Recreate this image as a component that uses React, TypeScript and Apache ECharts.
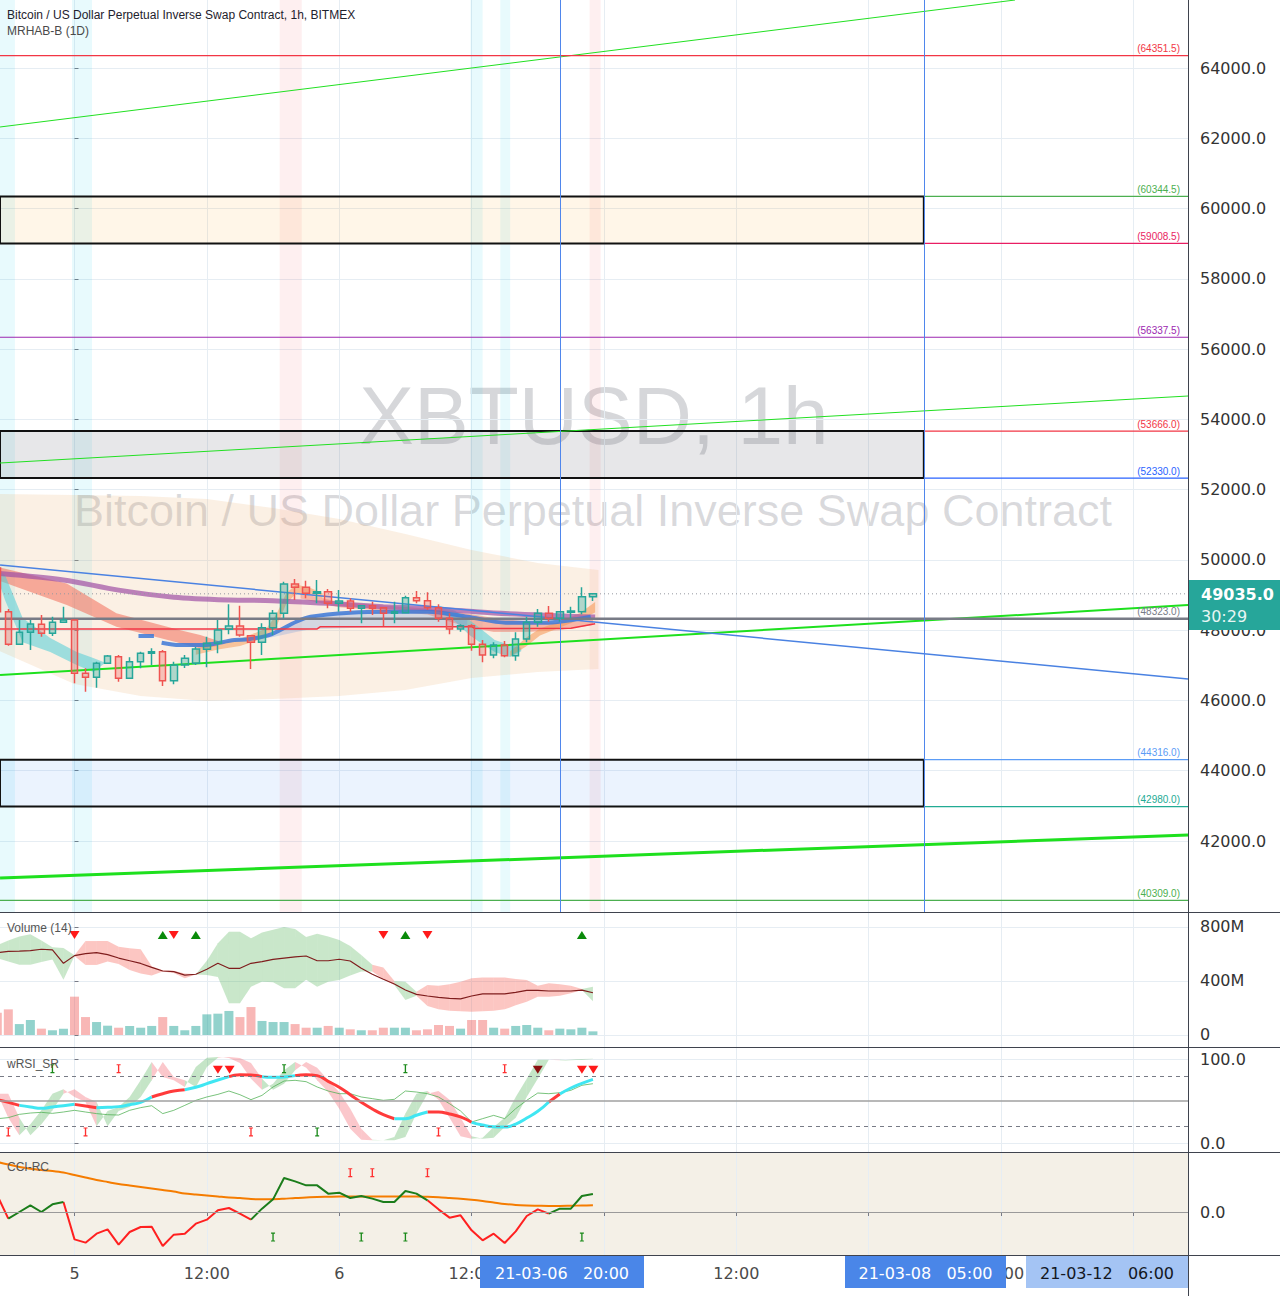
import React, { useEffect, useRef } from "react";
import * as echarts from "echarts";

// ---------------- axes ----------------
const X_MIN = -6.754;
const X_MAX = 100.95;
const PRICE_MIN = 39979.5;
const PRICE_MAX = 65935.3;
const VOL_MIN = -88.9;
const VOL_MAX = 911.1;
const RSI_MIN = -10.71;
const RSI_MAX = 114.29;
const CCI_MIN = -86;
const CCI_MAX = 120;

const timeTicks = [0, 12, 24, 36, 48, 60, 72, 84, 96];
const timeLabels = ["5", "12:00", "6", "12:00", "7", "12:00", "8", "12:00", "9"];
// ticks whose labels are hidden behind the highlighted date boxes
const coveredTimeTicks = [48, 72, 96];
const priceTicks = [42000, 44000, 46000, 48000, 50000, 52000, 54000, 56000, 58000, 60000, 62000, 64000];
const volumeTicks = [0, 400, 800];
const rsiTicks = [0, 100];
const cciTicks = [0];

// ---------------- candles (hours from 2021-03-05 00:00) ----------------
const firstCandleHour = -7;
const opens = [49770, 48526, 47598, 47939, 48167, 47911, 48224, 48289, 46772, 46659, 47057, 47245, 46630, 47103, 47342, 47387, 46562, 47009, 47057, 47455, 47626, 48025, 48119, 47843, 47655, 48070, 48480, 49314, 49220, 49049, 49095, 48765, 48830, 48622, 48696, 48640, 48480, 48497, 48924, 48839, 48640, 48338, 48033, 48127, 47598, 47293, 47578, 47273, 47749, 48224, 48480, 48338, 48509, 48526, 48953];
const closes = [48526, 47598, 47939, 48176, 47911, 48224, 48289, 46772, 46659, 47057, 47265, 46630, 47103, 47342, 47387, 46562, 47009, 47199, 47464, 47626, 48005, 48119, 47863, 47655, 48070, 48480, 49314, 49220, 49049, 49095, 48765, 48830, 48622, 48696, 48622, 48480, 48526, 48924, 48839, 48640, 48338, 48033, 48127, 47598, 47293, 47578, 47273, 47749, 48224, 48480, 48338, 48526, 48546, 48953, 49035];
const highs = [49850, 48603, 48289, 48289, 48432, 48383, 48668, 48289, 46915, 47103, 47294, 47294, 47228, 47387, 47484, 47436, 47103, 47294, 47521, 47814, 48289, 48736, 48696, 47843, 48196, 48574, 49380, 49456, 49408, 49428, 49172, 49143, 48907, 48696, 48810, 48640, 48810, 48981, 49115, 49078, 48736, 48480, 48167, 48167, 47720, 47655, 47692, 47939, 48383, 48603, 48688, 48526, 48668, 49220, 49050];
const lows = [48500, 47560, 47579, 47436, 47814, 47834, 48224, 46488, 46249, 46363, 47057, 46533, 46630, 46915, 47009, 46411, 46459, 46923, 47009, 46943, 47342, 47882, 47814, 46895, 47293, 47863, 48338, 48859, 48907, 48765, 48622, 48526, 48526, 48196, 48432, 48119, 48196, 48480, 48765, 48574, 48241, 47882, 47957, 47416, 47086, 47199, 47228, 47131, 47655, 48099, 48241, 48241, 48338, 48452, 48830];
const candleHours = opens.map((_, i) => firstCandleHour + i);
const lastPrice = 49035;

// ---------------- volume pane (millions) ----------------
const volumes = [165, 190, 81, 111, 47, 35, 47, 284, 133, 96, 69, 54, 67, 54, 67, 133, 67, 35, 67, 153, 158, 178, 133, 207, 104, 96, 96, 81, 54, 54, 67, 54, 42, 35, 35, 54, 54, 54, 35, 42, 74, 67, 47, 111, 111, 54, 47, 67, 74, 54, 35, 47, 42, 54, 27];
const volumeMA = [610, 620, 622, 625, 635, 630, 531, 588, 603, 610, 595, 570, 550, 530, 501, 474, 469, 444, 450, 487, 531, 494, 494, 531, 543, 560, 570, 578, 585, 550, 550, 561, 548, 494, 450, 413, 378, 333, 301, 289, 279, 272, 267, 289, 304, 304, 304, 316, 331, 331, 326, 326, 326, 333, 313];
const volCloudUpper = [665, 700, 730, 746, 700, 650, 645, 590, 696, 696, 696, 654, 642, 635, 510, 480, 475, 455, 450, 550, 680, 765, 765, 716, 760, 780, 800, 785, 725, 750, 730, 704, 660, 593, 520, 500, 400, 395, 320, 370, 365, 375, 395, 420, 425, 425, 425, 415, 407, 365, 383, 375, 365, 340, 358];
const volCloudLower = [570, 545, 520, 520, 540, 560, 410, 586, 519, 519, 545, 525, 481, 455, 440, 470, 460, 420, 448, 444, 430, 235, 235, 358, 395, 390, 346, 346, 410, 358, 395, 407, 440, 470, 470, 413, 370, 259, 290, 215, 190, 180, 175, 173, 175, 180, 190, 220, 247, 284, 284, 290, 310, 333, 250];
const volCloudColor = ["ggggggg", "rrrrrrrrrrr", "gggggggggggggggg", "rr", "gg", "rrrrrrrrrrrrrrr", "g"].join("");
const volDownHours = [0, 9, 28, 32];
const volUpHours = [8, 11, 30, 46];
const volSignalLevel = 741;

// ---------------- wRSI pane ----------------
const rsiMain = [51.6, 48.4, 44.8, 42.9, 41.3, 42.9, 44.4, 46, 44, 42, 42.5, 43.3, 45.6, 48.4, 54.8, 58.7, 61.9, 63.5, 66.3, 70.6, 75, 79, 81.4, 81, 79, 78.2, 78.6, 80.2, 81.4, 80.2, 73.4, 66.3, 57.5, 48.4, 40.5, 33.7, 28.9, 28.9, 33, 36.9, 36.9, 34.5, 31, 24.6, 21.4, 19.4, 19, 22.6, 29.8, 37.7, 48.8, 58.3, 65.5, 71.1, 75.8];
const rsiSegColor = ["rr", "ccccc", "rr", "ccccc", "rrr", "cccc", "rrr", "ccc", "rrrrrrrrr", "ccc", "rrrr", "ccccccc", "r", "ccc"].join("");
const rsiFast = [58.7, 30.2, 9.1, 22.2, 38.9, 58.7, 63.9, 54.8, 48.8, 19.8, 38.1, 42.9, 54.8, 74.6, 96.4, 78.6, 74.6, 66.7, 90.5, 101.6, 102.4, 101.2, 95.2, 76.6, 63.5, 70.6, 86.5, 96.4, 89.7, 74.6, 60.7, 40.9, 17.1, 4, 3.2, 3.2, 7.1, 35, 58.7, 61.9, 51.6, 30.2, 7.9, 5.2, 6.3, 19, 30.2, 54.8, 76.6, 99.2, 99.2, 98.4, 99.2, 100, 100.4];
const rsiThin = [28.9, 30.2, 34.1, 35.7, 36.5, 35.3, 36.9, 38.9, 36.9, 35, 33.7, 33.3, 38.9, 42.1, 44.4, 35, 38.9, 44.8, 50.8, 54.8, 57.9, 61.9, 57.5, 51.6, 56.7, 66.7, 73.8, 74.6, 73, 66.7, 61.9, 58.7, 58.7, 54.8, 52.8, 50.8, 52, 61.9, 60.7, 58.7, 54.8, 46.8, 38.1, 25, 29, 32.9, 29, 40.9, 50.8, 59.5, 58.7, 59.9, 62.7, 68.7, 70.6];
const rsiLevels = [80, 50, 20];
const rsiSellHours = [13, 14.06, 46, 47.04];
const rsiStrongSellHours = [42];
const rsiTriangleLevel = 87.3;
const rsiRedTopHours = [4, 39];
const rsiRedBottomHours = [-6, 1, 16, 33];
const rsiGreenTopHours = [-2, 19, 30];
const rsiGreenBottomHours = [22];
const rsiTopMark = 88.5;
const rsiBottomMark = 13.1;

// ---------------- CCI pane ----------------
const cci = [33.3, -13.3, 0, 13.3, 0, 15.3, 20, -54.7, -61.3, -43.3, -34.7, -65.3, -40, -30, -29.3, -68, -45.3, -43.3, -23.3, -15.3, 3.3, 8, -3.3, -15.3, 6.7, 25.3, 68, 61.3, 53.3, 53.3, 36.7, 38.7, 28, 32, 26.7, 20, 20, 42, 36.7, 23.3, 5.3, -11.3, -6.7, -36.7, -56.7, -43.3, -62, -38.7, -8, 5.3, -3.3, 6.7, 6.7, 32, 36];
const cciSegColor = ["r", "ggggg", "rrrrrrrrrrrrrrrrr", "gggggggggggggggg", "rrrrrrrrrrr", "gggg"].join("");
const cciMA = [100, 95, 90, 86.5, 84, 82, 79, 74, 69, 64, 60, 56, 53, 50, 47, 44, 41, 37, 35, 33, 31, 29, 28, 26, 25.5, 25.5, 26.5, 28, 29, 30, 30.5, 31, 31, 31, 31, 31, 31, 31, 31, 30.5, 29.5, 28, 26.5, 24.5, 22, 19, 16, 14, 13, 12.5, 12, 12, 12.5, 13, 13.5];
const cciRedHours = [25, 27, 32];
const cciGreenHours = [18, 26, 30, 46];
const cciTopMark = 78.7;
const cciBottomMark = -50;

// ---------------- main pane overlays ----------------
const envHours = [-7, 0, 6, 12, 18, 24, 30, 36, 42, 47.5];
const envUpper = [51876, 51847, 51819, 51733, 51477, 51164, 50737, 50282, 49912, 49713];
const envLower = [47436, 46468, 46127, 45984, 46041, 46127, 46297, 46639, 46810, 46895];

const purpleHours = [-7, -1, 4, 9, 14, 18, 23, 28, 32, 38, 47.2];
const purpleVals = [49620, 49430, 49140, 48940, 48860, 48840, 48765, 48670, 48620, 48490, 48375];

const blueMAHours = [5.8, 7.2, 7.5, 7.9, 9.5, 11.6, 14.5, 15.8, 17.9, 20.1, 21.4, 25, 28.5, 32, 35.6, 39.1, 42.6, 46.8];
const blueMAVals = [47834, 47834, null, 47644, 47578, 47578, 47720, 47741, 47891, 48241, 48383, 48497, 48526, 48526, 48383, 48213, 48213, 48383];

const blueFillHours = [14.5, 17.9, 20.1, 21.4, 25, 28.5, 32, 35.6];
const blueFillUpper = [47720, 47891, 48241, 48383, 48497, 48526, 48526, 48383];
const blueFillLower = [47700, 47800, 47950, 48030, 48060, 48100, 48100, 48100];

const redLineHours = [-7, 22, 22.3, 36, 36.3, 45, 47.2];
const redLineVals = [48035, 48035, 48100, 48100, 48045, 48055, 48180];

const cyanRibbon1Hours = [-7, -6.3, -4.7, -2.2, 0.2, 1.7, 2.8];
const cyanRibbon1Upper = [49700, 49570, 48350, 47780, 47380, 47210, 47070];
const cyanRibbon1Lower = [49500, 48860, 47660, 47380, 47010, 46810, 47070];

const salmonRibbonHours = [-7, -0.7, 3.8, 9.6, 11.4, 13];
const salmonRibbonUpper = [49800, 49330, 48480, 48000, 47860, 47700];
const salmonRibbonLower = [49430, 48720, 48100, 47630, 47480, 47550];

const orangeRibbonHours = [11, 13, 15, 17.4, 18.3, 19.2, 20.1, 21.4, 22.5];
const orangeRibbonUpper = [47450, 47650, 47750, 48050, 48450, 49050, 49300, 49200, 49050];
const orangeRibbonLower = [47300, 47450, 47550, 47800, 48100, 48750, 49050, 49000, 48900];

const salmonRibbon2Hours = [20.5, 24, 28, 32, 35, 38, 41, 44, 47];
const salmonRibbon2Upper = [49050, 48800, 48700, 48620, 48500, 48350, 48250, 48200, 48300];
const salmonRibbon2Lower = [48900, 48650, 48550, 48450, 48150, 47950, 47950, 48000, 48150];

const cyanRibbon2Hours = [33, 34.5, 35.8, 37, 38.1, 39.5, 40.5];
const cyanRibbon2Upper = [48700, 48550, 48290, 48000, 47720, 47578, 47500];
const cyanRibbon2Lower = [48550, 48250, 47863, 47600, 47379, 47237, 47400];

const orangeRibbon2Hours = [39.5, 41, 42.2, 44, 45.8, 47.2];
const orangeRibbon2Upper = [47400, 47800, 48050, 48250, 48480, 48800];
const orangeRibbon2Lower = [47250, 47550, 47850, 48080, 48300, 48500];

const trendTop = [[-6.75, 62321], [85.27, 65935]];
const trendMid = [[-6.75, 52758], [100.95, 54665]];
const trendLow = [[-6.75, 46724], [100.95, 48717]];
const trendBottom = [[-6.75, 40947], [100.95, 42170]];
const trendBlue = [[-6.75, 49855], [100.95, 46610]];

const levelPrices = [64351.5, 60344.5, 59008.5, 56337.5, 53666.0, 52330.0, 48323.0, 44316.0, 42980.0, 40309.0];
const levelStartHours = [null, 77, 77, null, 77, 77, null, 77, 77, null];
const zoneTops = [60344.5, 53666.0, 44316.0];
const zoneBottoms = [59008.5, 52330.0, 42980.0];
const zoneEndHour = 77;
const cursorHours = [44, 77];
const cyanStripes = [[-7.5, -5.4], [-0.23, 1.59], [35.9, 37.0], [38.6, 39.5]];
const pinkStripes = [[18.6, 20.6], [46.7, 47.7]];

// ---------------- styles ----------------
const levelColors = ["#f23645", "#4caf50", "#e91e63", "#9c27b0", "#f23645", "#2962ff", "#787b86", "#5b9cf6", "#22ab94", "#4caf50"];
const levelWidths = [1.2, 1.2, 1.2, 1.2, 1.2, 1.2, 2.5, 1.2, 1.2, 1.2];
const zoneFills = ["rgba(255,152,0,0.09)", "rgba(120,123,134,0.18)", "rgba(33,120,243,0.09)"];
const TEAL = "#26a69a";
const RED = "#ef5350";
const AXIS_FONT = "DejaVu Sans";
const UI_FONT = "Liberation Sans";

function polygonSeries(xIdx: number, hours: number[], upper: number[], lower: number[], fill: string, z: number) {
  return {
    type: "custom",
    xAxisIndex: xIdx,
    yAxisIndex: xIdx,
    z,
    silent: true,
    clip: true,
    data: [[hours[hours.length - 1], upper[upper.length - 1]]],
    renderItem: (_params: any, api: any) => {
      const pts: number[][] = [];
      for (let i = 0; i < hours.length; i++) pts.push(api.coord([hours[i], upper[i]]));
      for (let i = hours.length - 1; i >= 0; i--) pts.push(api.coord([hours[i], lower[i]]));
      return { type: "polygon", shape: { points: pts }, style: { fill } };
    },
  };
}

function segmentLine(xs: number[], values: number[], flags: string, key: string) {
  const out: any[] = [];
  for (let s = 0; s < flags.length; s++) {
    if (flags[s] === key) {
      const last = out[out.length - 1];
      if (!last || last[1] === null || last[0] !== xs[s]) out.push([xs[s], values[s]]);
      out.push([xs[s + 1], values[s + 1]]);
    } else if (out.length && out[out.length - 1][1] !== null) {
      out.push([(xs[s] + xs[s + 1]) / 2, null]);
    }
  }
  return out;
}

const I_SYMBOL = "path://M0,0 L6,0 L6,1.5 L4,1.5 L4,10.5 L6,10.5 L6,12 L0,12 L0,10.5 L2,10.5 L2,1.5 L0,1.5 Z";

function markerSeries(idx: number, hours: number[], level: number, color: string, symbol: string, size: any, rotate = 0) {
  return {
    type: "scatter",
    xAxisIndex: idx,
    yAxisIndex: idx,
    z: 7,
    silent: true,
    symbol,
    symbolSize: size,
    symbolRotate: rotate,
    itemStyle: { color, opacity: 1 },
    data: hours.map((h) => [h, level]),
  };
}

function buildOption() {
  const grids = [
    { left: 0, right: 92, top: 0, height: 912 },
    { left: 0, right: 92, top: 912, height: 135 },
    { left: 0, right: 92, top: 1047, height: 105 },
    { left: 0, right: 92, top: 1152, height: 103, show: true, backgroundColor: "#f4f0e7", borderWidth: 0 },
  ];
  const visibleTimeTicks = timeTicks.filter((t) => coveredTimeTicks.indexOf(t) < 0);
  const xAxes = [0, 1, 2, 3].map((i) => ({
    type: "value",
    gridIndex: i,
    min: X_MIN,
    max: X_MAX,
    axisLine: { show: false },
    axisTick: { show: i === 3, customValues: timeTicks, length: 4, lineStyle: { color: "#787b86" } },
    axisLabel: {
      show: i === 3,
      customValues: visibleTimeTicks,
      formatter: (v: number) => {
        const k = timeTicks.indexOf(v);
        return k >= 0 ? timeLabels[k] : "";
      },
      fontSize: 16,
      fontFamily: AXIS_FONT,
      color: "#4a4a4a",
      margin: 10,
    },
    splitLine: { show: true, lineStyle: { color: "#e6edf3", width: 1 } },
  }));
  const yDefs = [
    { min: PRICE_MIN, max: PRICE_MAX, ticks: priceTicks, fmt: (v: number) => v.toFixed(1) },
    { min: VOL_MIN, max: VOL_MAX, ticks: volumeTicks, fmt: (v: number) => (v === 0 ? "0" : v + "M") },
    { min: RSI_MIN, max: RSI_MAX, ticks: rsiTicks, fmt: (v: number) => v.toFixed(1) },
    { min: CCI_MIN, max: CCI_MAX, ticks: cciTicks, fmt: (v: number) => v.toFixed(1) },
  ];
  const yAxes = yDefs.map((d, i) => ({
    type: "value",
    gridIndex: i,
    position: "right",
    min: d.min,
    max: d.max,
    axisLine: { show: false },
    axisTick: { show: true, customValues: d.ticks, length: 4, lineStyle: { color: "#787b86" } },
    axisLabel: { customValues: d.ticks, formatter: d.fmt, fontSize: 16, fontFamily: AXIS_FONT, color: "#333", margin: 12 },
    splitLine: { show: i !== 3, lineStyle: { color: "#e6edf3", width: 1 } },
  }));

  const series: any[] = [];

  // vertical stripes
  series.push({
    type: "line", xAxisIndex: 0, yAxisIndex: 0, z: 0, silent: true, symbol: "none", data: [],
    markArea: {
      silent: true,
      data: [
        ...cyanStripes.map(([a, b]) => [{ xAxis: a, itemStyle: { color: "rgba(0,200,230,0.09)" } }, { xAxis: b }]),
        ...pinkStripes.map(([a, b]) => [{ xAxis: a, itemStyle: { color: "rgba(242,54,69,0.08)" } }, { xAxis: b }]),
      ],
    },
  });

  // envelope
  series.push(polygonSeries(0, envHours, envUpper, envLower, "rgba(235,180,120,0.2)", 1));

  // zones
  series.push({
    type: "line", xAxisIndex: 0, yAxisIndex: 0, z: 1, silent: true, symbol: "none", data: [],
    markArea: {
      silent: true,
      data: zoneTops.map((t, i) => [
        { xAxis: X_MIN - 2, yAxis: t, itemStyle: { color: zoneFills[i], borderColor: "#111", borderWidth: 2 } },
        { xAxis: zoneEndHour, yAxis: zoneBottoms[i] },
      ]),
    },
  });

  // ribbons
  series.push(polygonSeries(0, salmonRibbonHours, salmonRibbonUpper, salmonRibbonLower, "rgba(242,110,90,0.55)", 2));
  series.push(polygonSeries(0, cyanRibbon1Hours, cyanRibbon1Upper, cyanRibbon1Lower, "rgba(80,205,215,0.55)", 2));
  series.push(polygonSeries(0, orangeRibbonHours, orangeRibbonUpper, orangeRibbonLower, "rgba(245,150,80,0.5)", 2));
  series.push(polygonSeries(0, salmonRibbon2Hours, salmonRibbon2Upper, salmonRibbon2Lower, "rgba(242,110,90,0.45)", 2));
  series.push(polygonSeries(0, cyanRibbon2Hours, cyanRibbon2Upper, cyanRibbon2Lower, "rgba(80,205,215,0.55)", 2));
  series.push(polygonSeries(0, orangeRibbon2Hours, orangeRibbon2Upper, orangeRibbon2Lower, "rgba(245,150,80,0.55)", 2));
  series.push(polygonSeries(0, blueFillHours, blueFillUpper, blueFillLower, "rgba(110,150,220,0.28)", 2));

  // moving averages
  series.push({
    type: "line", xAxisIndex: 0, yAxisIndex: 0, z: 3, silent: true, symbol: "none", smooth: 0.3,
    lineStyle: { color: "rgba(160,80,165,0.7)", width: 5 },
    data: purpleHours.map((h, i) => [h, purpleVals[i]]),
  });
  series.push({
    type: "line", xAxisIndex: 0, yAxisIndex: 0, z: 3, silent: true, symbol: "none", smooth: 0.3, connectNulls: false,
    lineStyle: { color: "rgba(60,120,215,0.85)", width: 4 },
    data: blueMAHours.map((h, i) => [h, blueMAVals[i]]),
  });
  series.push({
    type: "line", xAxisIndex: 0, yAxisIndex: 0, z: 3, silent: true, symbol: "none",
    lineStyle: { color: "#f23645", width: 1.5 },
    data: redLineHours.map((h, i) => [h, redLineVals[i]]),
  });

  // trend lines
  const trend = (pts: number[][], color: string, width: number, z = 4) => ({
    type: "line", xAxisIndex: 0, yAxisIndex: 0, z, silent: true, symbol: "none",
    lineStyle: { color, width }, data: pts,
  });
  series.push(trend(trendTop, "#22e022", 1));
  series.push(trend(trendMid, "#22e022", 1));
  series.push(trend(trendLow, "#1ee01e", 2));
  series.push(trend(trendBottom, "#1ee01e", 3));
  series.push(trend(trendBlue, "#4a82e2", 1.5));

  // horizontal level lines (drawn as plain line series)
  levelPrices.forEach((p, i) => {
    const start = levelStartHours[i] == null ? X_MIN : (levelStartHours[i] as number);
    series.push(trend([[start, p], [X_MAX, p]], levelColors[i], levelWidths[i], 4));
  });

  // level price labels (markLine with an invisible stroke, only its label is seen)
  series.push({
    type: "line", xAxisIndex: 0, yAxisIndex: 0, z: 4, silent: true, symbol: "none", data: [],
    markLine: {
      silent: true,
      symbol: ["none", "none"],
      lineStyle: { color: "rgba(0,0,0,0)", width: 1 },
      label: { show: true, position: "insideEndTop", fontSize: 10, fontFamily: UI_FONT, distance: [8, 2] },
      data: levelPrices.map((p, i) => {
        const style = {
          lineStyle: { color: "rgba(0,0,0,0)", width: 1 },
          label: { formatter: "(" + p.toFixed(1) + ")", color: levelColors[i] },
        };
        if (levelStartHours[i] == null) return { yAxis: p, ...style };
        return [{ coord: [levelStartHours[i], p], ...style }, { coord: [X_MAX, p] }];
      }),
    },
  });
  series.push({
    type: "line", xAxisIndex: 0, yAxisIndex: 0, z: 4, silent: true, symbol: "none",
    lineStyle: { color: "#9598a1", width: 1, type: [1, 3] },
    data: [[X_MIN, lastPrice], [X_MAX, lastPrice]],
  });

  // candles
  series.push({
    type: "candlestick", xAxisIndex: 0, yAxisIndex: 0, z: 5, silent: true, barWidth: 7,
    encode: { x: 0, y: [1, 2, 3, 4] },
    itemStyle: {
      color: "rgba(38,166,154,0.35)",
      color0: "rgba(239,83,80,0.3)",
      borderColor: TEAL,
      borderColor0: RED,
      borderWidth: 1.5,
    },
    data: candleHours.map((h, i) => [h, opens[i], closes[i], lows[i], highs[i]]),
  });

  // cursor lines
  series.push({
    type: "line", xAxisIndex: 0, yAxisIndex: 0, z: 6, silent: true, symbol: "none", data: [],
    markLine: {
      silent: true, symbol: ["none", "none"], label: { show: false },
      lineStyle: { color: "#4f86ec", width: 1, type: "solid" },
      data: cursorHours.map((h) => ({ xAxis: h })),
    },
  });

  // ---- volume pane ----
  series.push({
    type: "custom", xAxisIndex: 1, yAxisIndex: 1, z: 1, silent: true, clip: true,
    data: volCloudUpper.slice(1).map((u, k) => [candleHours[k + 1], u]),
    renderItem: (params: any, api: any) => {
      const i = params.dataIndex;
      const pts = [
        api.coord([candleHours[i], volCloudUpper[i]]),
        api.coord([candleHours[i + 1], volCloudUpper[i + 1]]),
        api.coord([candleHours[i + 1], volCloudLower[i + 1]]),
        api.coord([candleHours[i], volCloudLower[i]]),
      ];
      const fill = volCloudColor[i] === "g" ? "rgba(76,175,80,0.3)" : "rgba(244,67,54,0.3)";
      return { type: "polygon", shape: { points: pts }, style: { fill } };
    },
  });
  series.push({
    type: "bar", xAxisIndex: 1, yAxisIndex: 1, z: 2, silent: true, barWidth: 9,
    data: candleHours.map((h, i) => ({
      value: [h, volumes[i]],
      itemStyle: { color: closes[i] >= opens[i] ? "rgba(38,166,154,0.5)" : "rgba(239,83,80,0.42)" },
    })),
  });
  series.push({
    type: "line", xAxisIndex: 1, yAxisIndex: 1, z: 3, silent: true, symbol: "none",
    lineStyle: { color: "#7f1d1d", width: 1.2 },
    data: candleHours.map((h, i) => [h, volumeMA[i]]),
  });
  series.push(markerSeries(1, volDownHours, volSignalLevel, "#ff1a1a", "triangle", [10, 8], 180));
  series.push(markerSeries(1, volUpHours, volSignalLevel, "#0a8a0a", "triangle", [10, 8], 0));

  // ---- wRSI pane ----
  series.push({
    type: "custom", xAxisIndex: 2, yAxisIndex: 2, z: 1, silent: true, clip: true,
    data: rsiFast.slice(1).map((v, k) => [candleHours[k + 1], v]),
    renderItem: (params: any, api: any) => {
      const i = params.dataIndex + 1;
      const prevLag = i - 2 >= 0 ? rsiFast[i - 2] : rsiFast[i - 1];
      const pts = [
        api.coord([candleHours[i - 1], rsiFast[i - 1]]),
        api.coord([candleHours[i], rsiFast[i]]),
        api.coord([candleHours[i], rsiFast[i - 1]]),
        api.coord([candleHours[i - 1], prevLag]),
      ];
      const fill = rsiFast[i] >= rsiFast[i - 1] ? "rgba(76,175,80,0.32)" : "rgba(242,54,69,0.28)";
      return { type: "polygon", shape: { points: pts }, style: { fill } };
    },
  });
  series.push({
    type: "line", xAxisIndex: 2, yAxisIndex: 2, z: 2, silent: true, symbol: "none", data: [],
    markLine: {
      silent: true, symbol: ["none", "none"], label: { show: false },
      data: [
        { yAxis: rsiLevels[0], lineStyle: { color: "#787b86", width: 1, type: [4, 4] } },
        { yAxis: rsiLevels[1], lineStyle: { color: "#a0a0a0", width: 1.5, type: "solid" } },
        { yAxis: rsiLevels[2], lineStyle: { color: "#787b86", width: 1, type: [4, 4] } },
      ],
    },
  });
  series.push({
    type: "line", xAxisIndex: 2, yAxisIndex: 2, z: 3, silent: true, symbol: "none",
    lineStyle: { color: "rgba(76,175,80,0.75)", width: 1 },
    data: candleHours.map((h, i) => [h, rsiThin[i]]),
  });
  series.push({
    type: "line", xAxisIndex: 2, yAxisIndex: 2, z: 4, silent: true, symbol: "none", smooth: 0.5, connectNulls: false,
    lineStyle: { color: "#ff3b3b", width: 3 },
    data: segmentLine(candleHours, rsiMain, rsiSegColor, "r"),
  });
  series.push({
    type: "line", xAxisIndex: 2, yAxisIndex: 2, z: 4, silent: true, symbol: "none", smooth: 0.5, connectNulls: false,
    lineStyle: { color: "#40e6f2", width: 3 },
    data: segmentLine(candleHours, rsiMain, rsiSegColor, "c"),
  });
  series.push(markerSeries(2, rsiSellHours, rsiTriangleLevel, "#ff1a1a", "triangle", [10, 8], 180));
  series.push(markerSeries(2, rsiStrongSellHours, rsiTriangleLevel, "#8b1010", "triangle", [10, 8], 180));
  series.push(markerSeries(2, rsiRedTopHours, rsiTopMark, "#ff3030", I_SYMBOL, [4, 9]));
  series.push(markerSeries(2, rsiRedBottomHours, rsiBottomMark, "#ff3030", I_SYMBOL, [4, 9]));
  series.push(markerSeries(2, rsiGreenTopHours, rsiTopMark, "#1a8a1a", I_SYMBOL, [4, 9]));
  series.push(markerSeries(2, rsiGreenBottomHours, rsiBottomMark, "#1a8a1a", I_SYMBOL, [4, 9]));

  // ---- CCI pane ----
  series.push({
    type: "line", xAxisIndex: 3, yAxisIndex: 3, z: 2, silent: true, symbol: "none", data: [],
    markLine: {
      silent: true, symbol: ["none", "none"], label: { show: false },
      data: [{ yAxis: 0, lineStyle: { color: "#9a9a9a", width: 1, type: "solid" } }],
    },
  });
  series.push({
    type: "line", xAxisIndex: 3, yAxisIndex: 3, z: 3, silent: true, symbol: "none", smooth: 0.3,
    lineStyle: { color: "#f57c00", width: 2 },
    data: candleHours.map((h, i) => [h, cciMA[i]]),
  });
  series.push({
    type: "line", xAxisIndex: 3, yAxisIndex: 3, z: 4, silent: true, symbol: "none", connectNulls: false,
    lineStyle: { color: "#ff2020", width: 2 },
    data: segmentLine(candleHours, cci, cciSegColor, "r"),
  });
  series.push({
    type: "line", xAxisIndex: 3, yAxisIndex: 3, z: 4, silent: true, symbol: "none", connectNulls: false,
    lineStyle: { color: "#1b7d1b", width: 2 },
    data: segmentLine(candleHours, cci, cciSegColor, "g"),
  });
  series.push(markerSeries(3, cciRedHours, cciTopMark, "#ff3030", I_SYMBOL, [4, 9]));
  series.push(markerSeries(3, cciGreenHours, cciBottomMark, "#1a8a1a", I_SYMBOL, [4, 9]));

  const sep = (x1: number, y1: number, x2: number, y2: number) => ({
    type: "line", z: 90, silent: true,
    shape: { x1, y1, x2, y2 },
    style: { stroke: "#3f434e", lineWidth: 1 },
  });
  const txt = (x: number, y: number, text: string, font: string, fill: string, align = "left", z = 100) => ({
    type: "text", z, silent: true, x, y,
    style: { text, font, fill, textAlign: align, textVerticalAlign: "middle" },
  });
  const timeBox = (x: number, w: number, text: string, fill: string, color: string) => [
    { type: "rect", z: 100, silent: true, shape: { x, y: 1256, width: w, height: 32 }, style: { fill } },
    txt(x + w / 2, 1273, text, `16px "${AXIS_FONT}"`, color, "center", 101),
  ];

  const graphic = [
    txt(594, 415, "XBTUSD, 1h", `82px "${UI_FONT}"`, "rgba(120,123,134,0.3)", "center", 0),
    txt(593, 510, "Bitcoin / US Dollar Perpetual Inverse Swap Contract", `45px "${UI_FONT}"`, "rgba(120,123,134,0.28)", "center", 0),
    txt(7, 15, "Bitcoin / US Dollar Perpetual Inverse Swap Contract, 1h, BITMEX", `12px "${UI_FONT}"`, "#1e222d"),
    txt(7, 31, "MRHAB-B (1D)", `12px "${UI_FONT}"`, "#4a4a4a"),
    txt(7, 928, "Volume (14)", `12px "${UI_FONT}"`, "#555"),
    txt(7, 1064, "wRSI_SR", `12px "${UI_FONT}"`, "#555"),
    txt(7, 1167, "CCI-RC", `12px "${UI_FONT}"`, "#555"),
    sep(0, 912.5, 1280, 912.5),
    sep(0, 1047.5, 1280, 1047.5),
    sep(0, 1152.5, 1280, 1152.5),
    sep(0, 1255.5, 1280, 1255.5),
    sep(1188.5, 0, 1188.5, 1296),
    { type: "rect", z: 100, silent: true, shape: { x: 1189, y: 580, width: 91, height: 50 }, style: { fill: TEAL } },
    txt(1201, 594, lastPrice.toFixed(1), `bold 16px "${AXIS_FONT}"`, "#ffffff", "left", 101),
    txt(1201, 616, "30:29", `16px "${AXIS_FONT}"`, "#e8f6f4", "left", 101),
    ...timeBox(480, 164, "21-03-06   20:00", "#4a86e8", "#ffffff"),
    ...timeBox(845, 161, "21-03-08   05:00", "#4a86e8", "#ffffff"),
    ...timeBox(1026, 162, "21-03-12   06:00", "#a4c4f4", "#131722"),
  ];

  return {
    animation: false,
    backgroundColor: "#ffffff",
    textStyle: { fontFamily: AXIS_FONT },
    grid: grids,
    xAxis: xAxes,
    yAxis: yAxes,
    series,
    graphic: { elements: graphic },
  };
}

export default function App() {
  const ref = useRef<HTMLDivElement>(null);
  useEffect(() => {
    if (!ref.current) return;
    const chart = echarts.init(ref.current, null, { renderer: "svg" });
    chart.setOption(buildOption() as any);
    return () => chart.dispose();
  }, []);
  return (
    <div
      ref={ref}
      style={{ position: "fixed", left: 0, top: 0, width: 1280, height: 1296, background: "#fff" }}
    />
  );
}
